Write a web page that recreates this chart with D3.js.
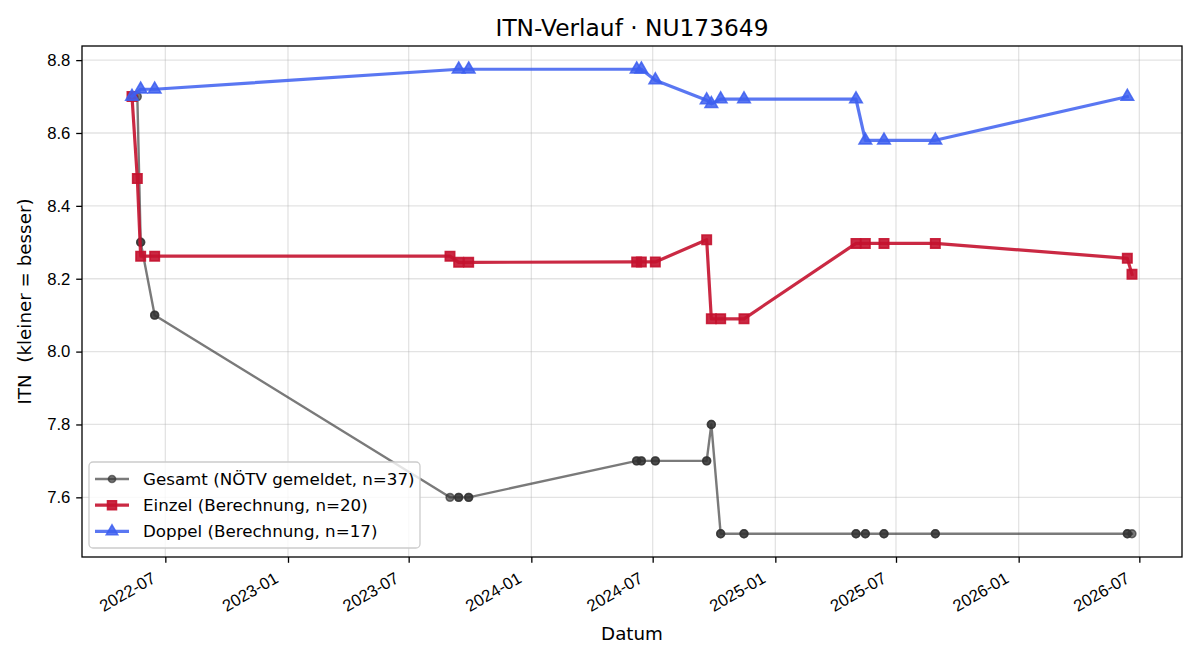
<!DOCTYPE html>
<html>
<head>
<meta charset="utf-8">
<script src="https://cdn.jsdelivr.net/npm/d3@7"></script>
<style>
    body { margin: 0; background: #fff; }
    svg { display: block; font-family: "DejaVu Sans", sans-serif; }
</style>
</head>
<body>
<script>
// Spieltermine (alle Matches, Gesamt-Reihe hat pro Termin einen Eintrag je Match)
var gesamtDates = [
    "2022-05-12", "2022-05-12", "2022-05-20", "2022-05-25", "2022-05-25", "2022-06-15", "2022-06-15",
    "2023-09-01", "2023-09-14", "2023-09-14", "2023-09-29", "2023-09-29",
    "2024-06-07", "2024-06-07", "2024-06-14", "2024-06-14", "2024-07-05", "2024-07-05",
    "2024-09-20", "2024-09-20", "2024-09-27", "2024-09-27", "2024-10-11", "2024-10-11",
    "2024-11-15", "2024-11-15", "2025-05-02", "2025-05-02", "2025-05-16", "2025-05-16",
    "2025-06-13", "2025-06-13", "2025-08-29", "2025-08-29", "2026-06-13", "2026-06-13", "2026-06-20"
];
var gesamtValues = [
    8.7, 8.7, 8.7, 8.3, 8.3, 8.1, 8.1,
    7.6, 7.6, 7.6, 7.6, 7.6,
    7.7, 7.7, 7.7, 7.7, 7.7, 7.7,
    7.7, 7.7, 7.8, 7.8, 7.5, 7.5,
    7.5, 7.5, 7.5, 7.5, 7.5, 7.5,
    7.5, 7.5, 7.5, 7.5, 7.5, 7.5, 7.5
];

var einzelDates = [
    "2022-05-12", "2022-05-20", "2022-05-25", "2022-06-15", "2023-09-01", "2023-09-14", "2023-09-29",
    "2024-06-07", "2024-06-14", "2024-07-05", "2024-09-20", "2024-09-27", "2024-10-11", "2024-11-15",
    "2025-05-02", "2025-05-16", "2025-06-13", "2025-08-29", "2026-06-13", "2026-06-20"
];
var einzelValues = [
    8.70, 8.475, 8.262, 8.262, 8.262, 8.245, 8.245,
    8.246, 8.246, 8.246, 8.307, 8.09, 8.09, 8.09,
    8.297, 8.297, 8.297, 8.297, 8.256, 8.212
];

var doppelDates = [
    "2022-05-12", "2022-05-25", "2022-06-15", "2023-09-14", "2023-09-29",
    "2024-06-07", "2024-06-14", "2024-07-05", "2024-09-20", "2024-09-27", "2024-10-11", "2024-11-15",
    "2025-05-02", "2025-05-16", "2025-06-13", "2025-08-29", "2026-06-13"
];
var doppelValues = [
    8.70, 8.72, 8.72, 8.775, 8.775,
    8.775, 8.775, 8.745, 8.69, 8.68, 8.693, 8.693,
    8.693, 8.58, 8.58, 8.58, 8.70
];

var yTicks = [7.6, 7.8, 8.0, 8.2, 8.4, 8.6, 8.8];
var legendLabels = [
    "Gesamt (NÖTV gemeldet, n=37)",
    "Einzel (Berechnung, n=20)",
    "Doppel (Berechnung, n=17)"
];

var width = 1200;
var height = 660;
var margin = {left: 82, right: 18, top: 46, bottom: 103};
var fs = 16.7;
var labelFs = 18.3;

var parse = d3.utcParse("%Y-%m-%d");

function toPoints(dates, values) {
    return dates.map((d, i) => ({date: parse(d), value: values[i]}));
}

var gesamt = toPoints(gesamtDates, gesamtValues);
var einzel = toPoints(einzelDates, einzelValues);
var doppel = toPoints(doppelDates, doppelValues);
var all = gesamt.concat(einzel, doppel);

// matplotlib-artige Ränder (5 %)
function padded(ext) {
    var pad = (ext[1] - ext[0]) * 0.05;
    return [ext[0] - pad, ext[1] + pad];
}

var xExt = padded(d3.extent(all, d => +d.date));
var yExt = padded(d3.extent(all, d => d.value));

var x = d3.scaleUtc()
    .domain([new Date(xExt[0]), new Date(xExt[1])])
    .range([margin.left, width - margin.right]);
var y = d3.scaleLinear()
    .domain(yExt)
    .range([height - margin.bottom, margin.top]);

var series = [
    {data: gesamt, color: "#333333", alpha: 0.65, lw: 2.4, marker: "circle", size: 48, legSize: 40},
    {data: einzel, color: "#c4122f", alpha: 0.9, lw: 3.2, marker: "square", size: 88, legSize: 80},
    {data: doppel, color: "#3d5ff0", alpha: 0.85, lw: 3.2, marker: "triangle", size: 68, legSize: 56}
];

function symbolFor(s, size) {
    var type = s.marker == "circle" ? d3.symbolCircle : s.marker == "square" ? d3.symbolSquare : d3.symbolTriangle;
    return d3.symbol().type(type).size(size || s.size);
}

var svg = d3.select("body").append("svg")
    .attr("width", width)
    .attr("height", height);

var x0 = margin.left, x1 = width - margin.right;
var y0 = height - margin.bottom, y1 = margin.top;

// Gitter
var xTicks = x.ticks(d3.utcMonth.every(6));

svg.append("g")
    .selectAll("line")
    .data(xTicks)
    .join("line")
    .attr("x1", d => x(d)).attr("x2", d => x(d))
    .attr("y1", y0).attr("y2", y1)
    .attr("stroke", "#b0b0b0")
    .attr("stroke-opacity", 0.35)
    .attr("stroke-width", 1.3);

svg.append("g")
    .selectAll("line")
    .data(yTicks)
    .join("line")
    .attr("x1", x0).attr("x2", x1)
    .attr("y1", d => y(d)).attr("y2", d => y(d))
    .attr("stroke", "#b0b0b0")
    .attr("stroke-opacity", 0.35)
    .attr("stroke-width", 1.3);

// Linien + Marker
var line = d3.line().x(d => x(d.date)).y(d => y(d.value));

series.forEach(s => {
    var g = svg.append("g");
    g.append("path")
        .datum(s.data)
        .attr("d", line)
        .attr("fill", "none")
        .attr("stroke", s.color)
        .attr("stroke-opacity", s.alpha)
        .attr("stroke-width", s.lw)
        .attr("stroke-linejoin", "round")
        .attr("stroke-linecap", "square");
    g.selectAll("path.m")
        .data(s.data)
        .join("path")
        .attr("class", "m")
        .attr("d", symbolFor(s))
        .attr("transform", d => `translate(${x(d.date)},${y(d.value)})`)
        .attr("fill", s.color)
        .attr("fill-opacity", s.alpha)
        .attr("stroke", s.color)
        .attr("stroke-opacity", s.alpha)
        .attr("stroke-width", 1.6);
});

// Achsen
var xAxis = svg.append("g")
    .attr("transform", `translate(0,${y0})`)
    .call(d3.axisBottom(x).tickValues(xTicks).tickSize(5.8).tickPadding(0).tickFormat(d3.utcFormat("%Y-%m")));
xAxis.select(".domain").remove();
xAxis.selectAll("line").attr("stroke", "#000").attr("stroke-width", 1.3);
xAxis.selectAll("text")
    .attr("font-size", fs)
    .attr("fill", "#000")
    .attr("text-anchor", "end")
    .attr("y", 0)
    .attr("dy", 0)
    .attr("transform", "translate(-9,24.5) rotate(-30)");

var yAxis = svg.append("g")
    .attr("transform", `translate(${x0},0)`)
    .call(d3.axisLeft(y).tickValues(yTicks).tickSize(5.8).tickPadding(5.8).tickFormat(d3.format(".1f")));
yAxis.select(".domain").remove();
yAxis.selectAll("line").attr("stroke", "#000").attr("stroke-width", 1.3);
yAxis.selectAll("text").attr("font-size", fs).attr("fill", "#000");

// Rahmen
svg.append("rect")
    .attr("x", x0).attr("y", y1)
    .attr("width", x1 - x0).attr("height", y0 - y1)
    .attr("fill", "none")
    .attr("stroke", "#000")
    .attr("stroke-width", 1.3);

// Titel + Beschriftungen
svg.append("text")
    .attr("x", (x0 + x1) / 2).attr("y", 36)
    .attr("text-anchor", "middle")
    .attr("font-size", 23.3)
    .text("ITN-Verlauf · NU173649");

svg.append("text")
    .attr("x", (x0 + x1) / 2).attr("y", 640)
    .attr("text-anchor", "middle")
    .attr("font-size", labelFs)
    .text("Datum");

svg.append("text")
    .attr("transform", `translate(31,${(y0 + y1) / 2}) rotate(-90)`)
    .attr("text-anchor", "middle")
    .attr("font-size", labelFs)
    .style("white-space", "pre")
    .text("ITN  (kleiner = besser)");

// Legende
var leg = svg.append("g").attr("transform", "translate(89,462)");
leg.append("rect")
    .attr("width", 331).attr("height", 86)
    .attr("rx", 4)
    .attr("fill", "#fff")
    .attr("fill-opacity", 0.8)
    .attr("stroke", "#cccccc")
    .attr("stroke-width", 1.3);

series.forEach((s, i) => {
    var ly = 17 + i * 26.2;
    var item = leg.append("g").attr("transform", `translate(0,${ly})`);
    item.append("line")
        .attr("x1", 6).attr("x2", 40)
        .attr("stroke", s.color)
        .attr("stroke-opacity", s.alpha)
        .attr("stroke-width", s.lw);
    item.append("path")
        .attr("d", symbolFor(s, s.legSize))
        .attr("transform", "translate(23,0)")
        .attr("fill", s.color)
        .attr("fill-opacity", s.alpha)
        .attr("stroke", s.color)
        .attr("stroke-opacity", s.alpha)
        .attr("stroke-width", 1.6);
    item.append("text")
        .attr("x", 54).attr("y", 6)
        .attr("font-size", fs)
        .text(legendLabels[i]);
});
</script>
</body>
</html>
